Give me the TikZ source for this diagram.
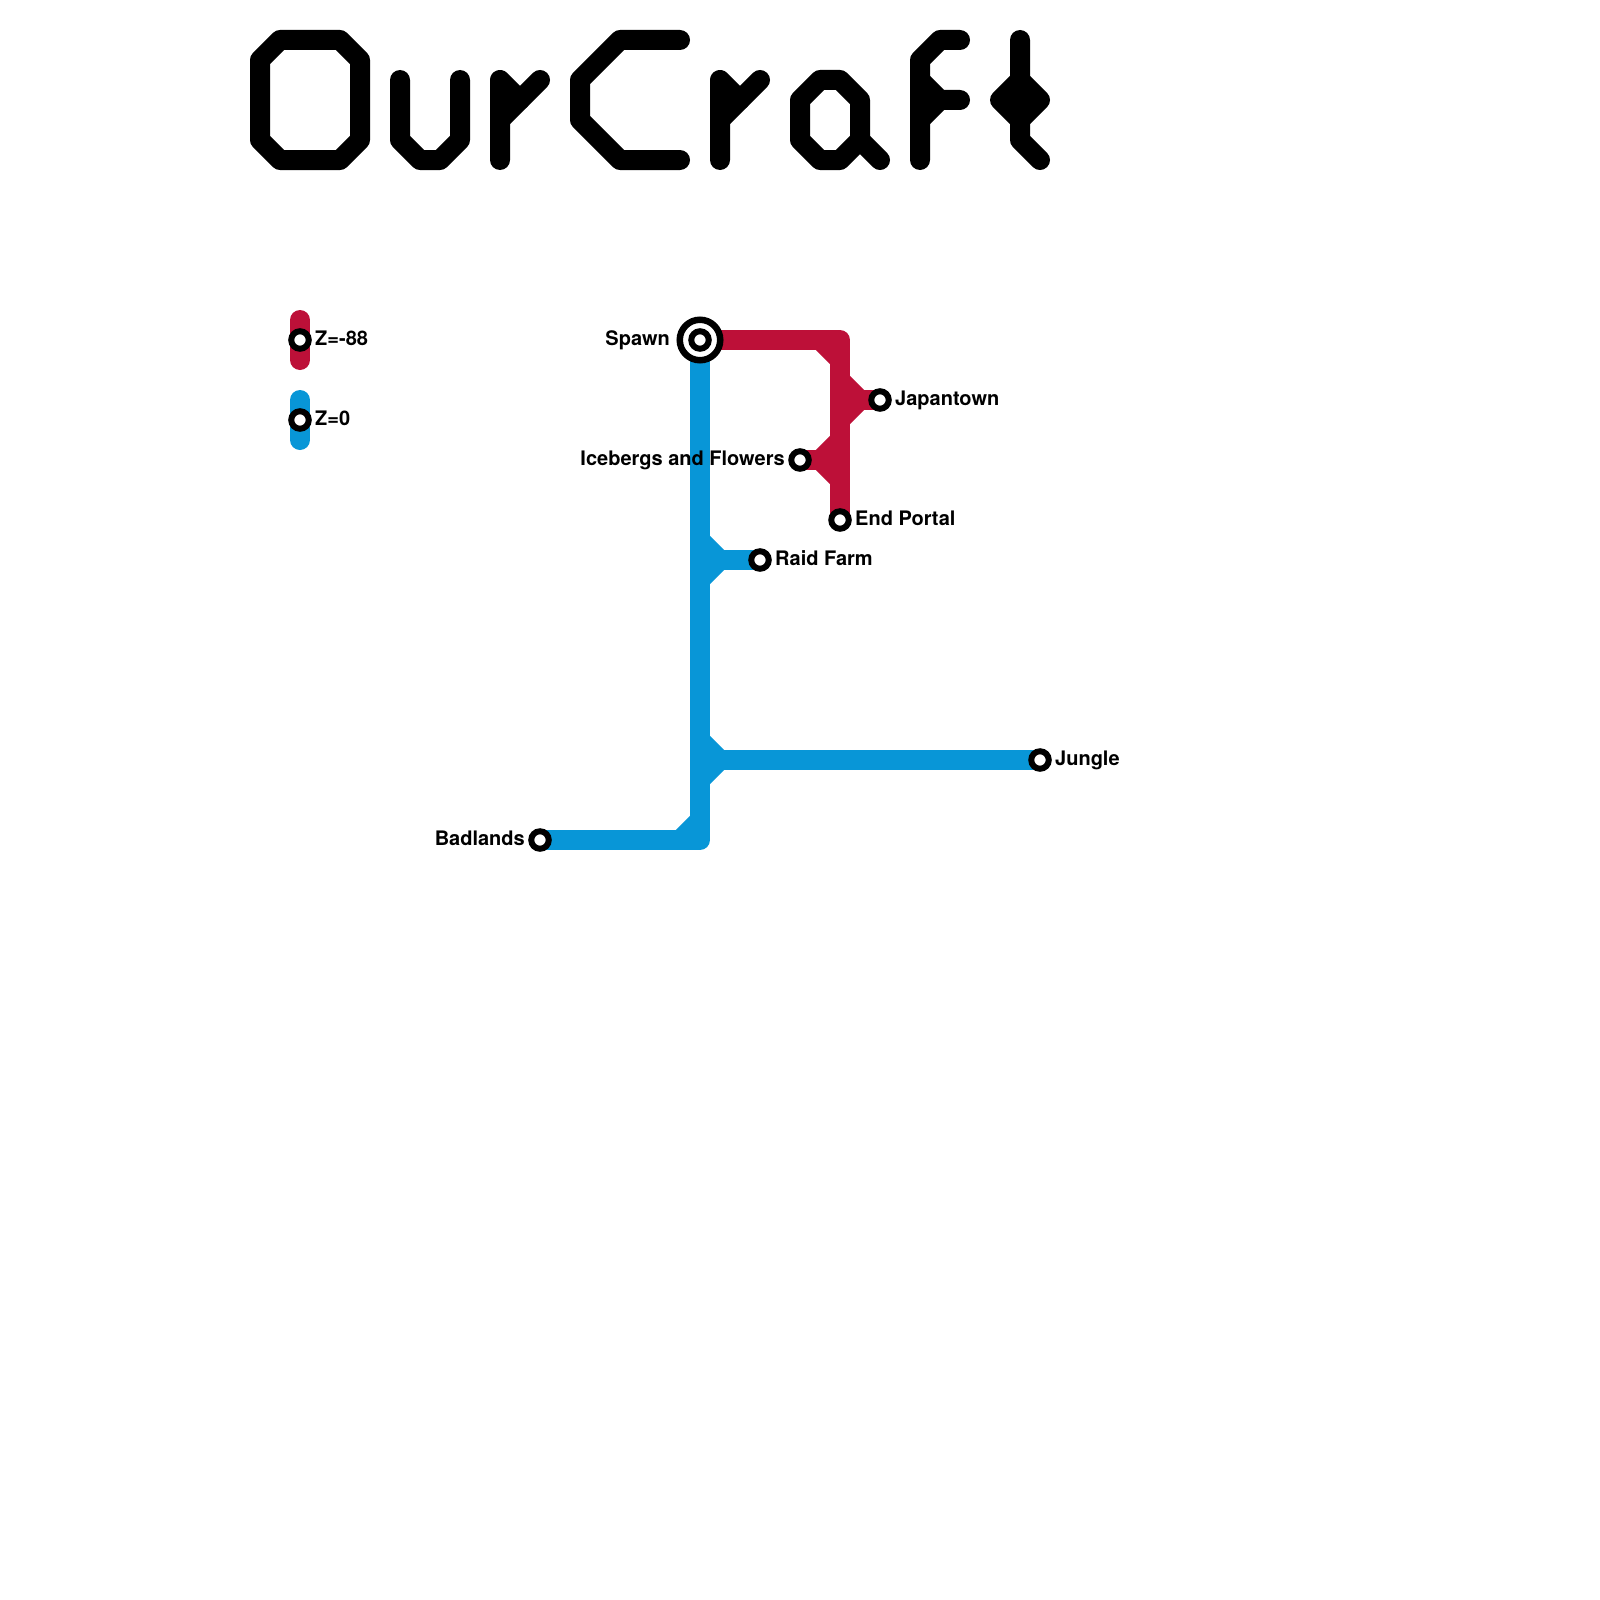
\documentclass[tikz,border=0pt]{standalone}
\usepackage{fontspec}
\usetikzlibrary{backgrounds}
\setmainfont{TeX Gyre Heros}
\definecolor{zred}{HTML}{BD1038}
\definecolor{zblue}{HTML}{0896D7}
\tikzset{
  titleline/.style={line width=20, line cap=round, line join=round, black},
  metroline/.style={line width=20, line join=round},
  legendline/.style={line width=20, line cap=round},
  station/.style={circle, draw=black, fill=white, line width=6, minimum size=17.5, inner sep=0pt},
  hub/.style={circle, draw=black, fill=white, line width=6.5, minimum size=40.5, inner sep=0pt},
  stnlabel/.style={inner sep=0pt, font=\fontsize{20}{24}\selectfont\bfseries}
}
\begin{document}
\begin{tikzpicture}[x=1pt,y=-1pt]
\useasboundingbox (0,0) rectangle (1600,1600);

% Title
\draw[titleline] (280,40) -- (340,40) -- (360,60) -- (360,140) -- (340,160) -- (280,160) -- (260,140) -- (260,60) -- cycle;
\draw[titleline] (400,80) -- (400,140) -- (420,160) -- (440,160) -- (460,140) -- (460,80);
\draw[titleline] (500,160) -- (500,80) -- (520,100);
\draw[titleline] (500,120) -- (540,80);
\draw[titleline] (680,40) -- (620,40) -- (580,80) -- (580,120) -- (620,160) -- (680,160);
\draw[titleline] (720,160) -- (720,80) -- (740,100);
\draw[titleline] (720,120) -- (760,80);
\draw[titleline] (820,80) -- (840,80) -- (860,100) -- (860,140) -- (840,160) -- (820,160) -- (800,140) -- (800,100) -- cycle;
\draw[titleline] (860,140) -- (880,160);
\draw[titleline] (920,160) -- (920,60) -- (940,40) -- (960,40);
\draw[titleline] (920,80) -- (940,100) -- (960,100);
\draw[titleline] (920,120) -- (940,100);
\draw[titleline] (1020,40) -- (1020,140) -- (1040,160);
\draw[titleline] (1020,80) -- (1040,100) -- (1020,120) -- (1000,100) -- cycle;

% Stations
\node[hub] (spawnring) at (700,340) {};
\node[station] (spawn) at (700,340) {};
\node[station] (japantown) at (880,400) {};
\node[station] (icebergs) at (800,460) {};
\node[station] (endportal) at (840,520) {};
\node[station] (raidfarm) at (760,560) {};
\node[station] (jungle) at (1040,760) {};
\node[station] (badlands) at (540,840) {};
\node[station] (legendred) at (300,340) {};
\node[station] (legendblue) at (300,420) {};

% Junctions
\coordinate (redcorner) at (840,340);
\coordinate (redin) at (820,340);
\coordinate (redout) at (840,360);
\coordinate (japanup) at (840,380);
\coordinate (japanjoin) at (860,400);
\coordinate (japandown) at (840,420);
\coordinate (iceup) at (840,440);
\coordinate (icejoin) at (820,460);
\coordinate (icedown) at (840,480);
\coordinate (raidup) at (700,540);
\coordinate (raidjoin) at (720,560);
\coordinate (raiddown) at (700,580);
\coordinate (jungleup) at (700,740);
\coordinate (junglejoin) at (720,760);
\coordinate (jungledown) at (700,780);
\coordinate (bluecorner) at (700,840);
\coordinate (bluein) at (700,820);
\coordinate (blueout) at (680,840);
\coordinate (legendredtop) at (300,320);
\coordinate (legendredend) at (300,360);
\coordinate (legendbluetop) at (300,400);
\coordinate (legendblueend) at (300,440);

% Draw lines under the stations
\begin{scope}[on background layer]
  \draw[metroline, zblue] (spawn.center) -- (bluecorner) -- (badlands.center);
  \draw[metroline, zblue] (bluein) -- (blueout);
  \draw[metroline, zblue] (raidup) -- (raidjoin) -- (raiddown);
  \draw[metroline, zblue] (raidjoin) -- (raidfarm.center);
  \draw[metroline, zblue] (jungleup) -- (junglejoin) -- (jungledown);
  \draw[metroline, zblue] (junglejoin) -- (jungle.center);

  \draw[metroline, zred] (spawn.center) -- (redcorner) -- (endportal.center);
  \draw[metroline, zred] (redin) -- (redout);
  \draw[metroline, zred] (japanup) -- (japanjoin) -- (japandown);
  \draw[metroline, zred] (japanjoin) -- (japantown.center);
  \draw[metroline, zred] (iceup) -- (icejoin) -- (icedown);
  \draw[metroline, zred] (icejoin) -- (icebergs.center);

  \draw[legendline, zred] (legendredtop) -- (legendredend);
  \draw[legendline, zblue] (legendbluetop) -- (legendblueend);
\end{scope}

% Labels
\node[stnlabel, anchor=base east] (spawnlabel) at (670,345.3) {Spawn};
\node[stnlabel, anchor=base west] (japantownlabel) at (895,405.3) {Japantown};
\node[stnlabel, anchor=base east] (icebergslabel) at (785,465.3) {Icebergs and Flowers};
\node[stnlabel, anchor=base west] (endportallabel) at (855,525.3) {End Portal};
\node[stnlabel, anchor=base west] (raidfarmlabel) at (775,565.3) {Raid Farm};
\node[stnlabel, anchor=base west] (junglelabel) at (1055,765.3) {Jungle};
\node[stnlabel, anchor=base east] (badlandslabel) at (525,845.3) {Badlands};
\node[stnlabel, anchor=base west] (legendredlabel) at (315,345.3) {Z=-88};
\node[stnlabel, anchor=base west] (legendbluelabel) at (315,425.3) {Z=0};
\end{tikzpicture}
\end{document}
